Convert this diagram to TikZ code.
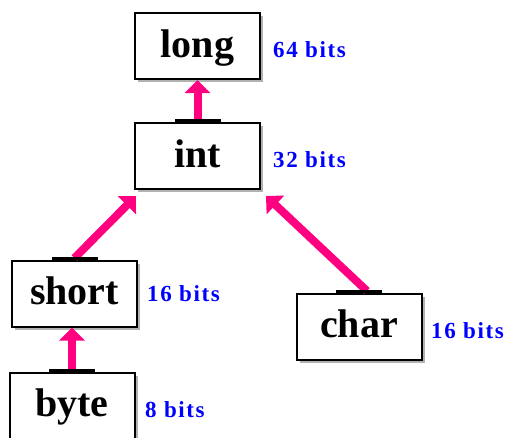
\documentclass[tikz,border=0pt]{standalone}
\usepackage{fontspec}
\setmainfont{Liberation Serif}
\newfontfamily\sizefont[LetterSpace=7]{Liberation Serif}
\usetikzlibrary{arrows.meta,shadows}
\definecolor{arrowpink}{RGB}{255,0,128}
\definecolor{bitblue}{RGB}{0,0,255}
\begin{document}
\begin{tikzpicture}[x=1pt,y=-1pt,
  typebox/.style={draw=black, line width=2pt, fill=white,
    minimum width=125pt, minimum height=66pt, inner sep=0pt,
    font=\fontsize{40}{42}\selectfont\bfseries,
    text height=28pt, text depth=6pt,
    drop shadow={shadow xshift=3pt, shadow yshift=-3pt, fill=black!30, opacity=1}},
  sizelabel/.style={anchor=base west, text=bitblue, inner sep=0pt,
    font=\sizefont\fontsize{23}{25}\selectfont\bfseries},
  widen/.style={arrowpink, line width=8pt, -{Triangle[width=25pt,length=13pt]}},
  tailbar/.style={fill=black}
]
\useasboundingbox (0,0) rectangle (509,437);

% type boxes
\node[typebox] (long)  at (197.5,46)    {long};
\node[typebox] (int)   at (197.5,156)   {int};
\node[typebox] (short) at (74.5,293.5)  {short};
\node[typebox] (char)  at (359,326.5)   {char};
\node[typebox] (byte)  at (72,405.5)    {byte};

% sizes
\node[sizelabel] (llong)  at (273,57)  {64 bits};
\node[sizelabel] (lint)   at (273,167) {32 bits};
\node[sizelabel] (lshort) at (147,301) {16 bits};
\node[sizelabel] (lchar)  at (431,338) {16 bits};
\node[sizelabel] (lbyte)  at (145,417) {8 bits};

% widening conversions
\draw[widen] ([yshift=1.5pt]int.north)   -- (long.south);
\draw[widen] ([yshift=1.5pt]short.north) -- ([xshift=2pt,yshift=-6pt]int.south west);
\draw[widen] ([xshift=8pt,yshift=1.5pt]char.north) -- ([xshift=5pt,yshift=-6pt]int.south east);
\draw[widen] ([yshift=1.5pt]byte.north)  -- (byte.north |- short.south);

% tail bars on top of the source boxes
\foreach \n in {int,short,char,byte}
  \fill[tailbar] ([xshift=-23pt]\n.north) rectangle ([xshift=23pt,yshift=3pt]\n.north);
\end{tikzpicture}
\end{document}
